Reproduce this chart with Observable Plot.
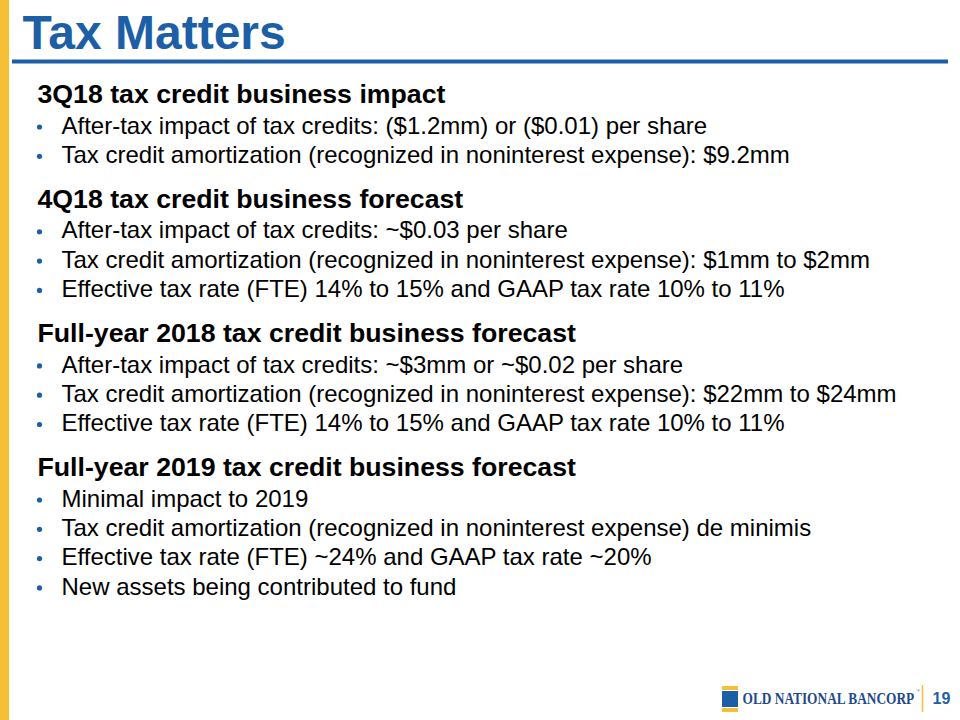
<!DOCTYPE html>
<html><head><meta charset="utf-8">
<script src="https://cdn.jsdelivr.net/npm/d3@7"></script>
<script src="https://cdn.jsdelivr.net/npm/@observablehq/plot@0.6"></script>
<style>html,body{margin:0;padding:0;background:#fff;overflow:hidden}</style>
</head><body><div id="chart"></div>
<script>
// ---- content ----
const title = "Tax Matters";
const headings = [
  "3Q18 tax credit business impact",
  "4Q18 tax credit business forecast",
  "Full-year 2018 tax credit business forecast",
  "Full-year 2019 tax credit business forecast"
];
const bullets3Q18 = [
  "After-tax impact of tax credits: ($1.2mm) or ($0.01) per share",
  "Tax credit amortization (recognized in noninterest expense): $9.2mm"
];
const bullets4Q18 = [
  "After-tax impact of tax credits: ~$0.03 per share",
  "Tax credit amortization (recognized in noninterest expense): $1mm to $2mm",
  "Effective tax rate (FTE) 14% to 15% and GAAP tax rate 10% to 11%"
];
const bulletsFY2018 = [
  "After-tax impact of tax credits: ~$3mm or ~$0.02 per share",
  "Tax credit amortization (recognized in noninterest expense): $22mm to $24mm",
  "Effective tax rate (FTE) 14% to 15% and GAAP tax rate 10% to 11%"
];
const bulletsFY2019 = [
  "Minimal impact to 2019",
  "Tax credit amortization (recognized in noninterest expense) de minimis",
  "Effective tax rate (FTE) ~24% and GAAP tax rate ~20%",
  "New assets being contributed to fund"
];
const logoText = "OLD NATIONAL BANCORP";
const pageNumber = "19";

// ---- style / layout ----
const BLUE = "#1D5FA6";
const NAVY = "#1F4A8A";
const YELLOW = "#F5BF36";
const SANS = "'Liberation Sans', Arial, Helvetica, sans-serif";
const SERIF = "'Liberation Serif', 'Times New Roman', serif";
const layout = {
  firstHeadingY: 94, headGap: 31.5, lineGap: 29.3, sectionGap: 44,
  headingX: 37, bulletX: 39, textX: 61,
  logoX: 742, logoWidth: 172
};

const sections = [bullets3Q18, bullets4Q18, bulletsFY2018, bulletsFY2019];
const rows = [];
let y = layout.firstHeadingY;
sections.forEach((items, s) => {
  rows.push({kind: "heading", text: headings[s], y});
  y += layout.headGap;
  items.forEach((t, i) => {
    rows.push({kind: "bullet", text: t, y});
    if (i < items.length - 1) y += layout.lineGap;
  });
  y += layout.sectionGap;
});
const headRows = rows.filter(d => d.kind === "heading");
const bulletRows = rows.filter(d => d.kind === "bullet");

const chart = Plot.plot({
  width: 960, height: 720,
  margin: 0,
  x: {type: "identity", axis: null},
  y: {type: "identity", axis: null},
  style: {background: "#fff"},
  marks: [
    // left yellow band
    Plot.rect([{x1: 0, x2: 9, y1: 0, y2: 720}], {x1: "x1", x2: "x2", y1: "y1", y2: "y2", fill: YELLOW}),
    // title
    Plot.text([title], {x: 22, y: 33, text: d => d, fontSize: 48, fontWeight: "bold",
      fill: BLUE, textAnchor: "start", lineAnchor: "middle", fontFamily: SANS}),
    // title rule
    Plot.ruleY([61], {x1: 12, x2: 948, stroke: BLUE, strokeWidth: 4}),
    // headings
    Plot.text(headRows, {x: layout.headingX, y: "y", text: "text", fontSize: 26.7, fontWeight: "bold",
      fill: "#000", textAnchor: "start", lineAnchor: "middle", fontFamily: SANS}),
    // bullets
    Plot.dot(bulletRows, {x: layout.bulletX, y: d => d.y + 1, r: 2.6, fill: BLUE, stroke: null}),
    Plot.text(bulletRows, {x: layout.textX, y: "y", text: "text", fontSize: 24,
      fill: "#000", textAnchor: "start", lineAnchor: "middle", fontFamily: SANS}),
    // logo icon
    Plot.rect([{x1: 722, x2: 738, y1: 686, y2: 690, c: YELLOW}, {x1: 722, x2: 738, y1: 691, y2: 707, c: BLUE}, {x1: 722, x2: 738, y1: 708, y2: 712, c: YELLOW}],
      {x1: "x1", x2: "x2", y1: "y1", y2: "y2", fill: "c"}),
    Plot.text([logoText], {x: layout.logoX, y: 698.5, text: d => d, fontSize: 17, fontWeight: "bold",
      fill: NAVY, textAnchor: "start", lineAnchor: "middle", fontFamily: SERIF}),
    Plot.text(["®"], {x: 916, y: 690, text: d => d, fontSize: 5, fill: NAVY, textAnchor: "start", lineAnchor: "middle", fontFamily: SERIF}),
    Plot.ruleX([922], {y1: 685, y2: 712, stroke: YELLOW, strokeWidth: 1.5}),
    Plot.text([pageNumber], {x: 932, y: 698.5, text: d => d, fontSize: 16, fontWeight: "bold",
      fill: BLUE, textAnchor: "start", lineAnchor: "middle", fontFamily: SANS})
  ]
});
document.getElementById("chart").appendChild(chart);
// condense the logo wordmark horizontally to its width
const logoNode = d3.select(chart).selectAll("text").filter(function() { return this.textContent === logoText; }).node();
if (logoNode) {
  const w = logoNode.getComputedTextLength();
  const s = layout.logoWidth / w;
  const g = logoNode.parentNode;
  const prev = g.getAttribute("transform") || "";
  g.setAttribute("transform", `${prev} translate(${layout.logoX},0) scale(${s},1) translate(${-layout.logoX},0)`);
}
</script>
</body></html>
